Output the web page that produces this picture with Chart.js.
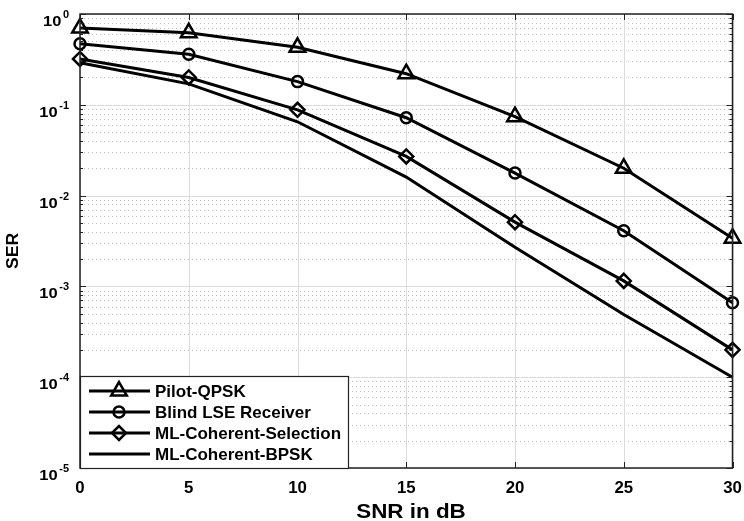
<!DOCTYPE html>
<html>
<head>
<meta charset="utf-8">
<script src="https://cdn.jsdelivr.net/npm/chart.js@4"></script>
<style>
  html, body { margin: 0; padding: 0; background: #fff; }
  #wrap { width: 744px; height: 521px; position: relative; }
</style>
</head>
<body>
<div id="wrap"><canvas id="chart"></canvas></div>
<script>
// values
const snrValues = [0, 5, 10, 15, 20, 25, 30];
const pilotQpsk = [0.70, 0.62, 0.43, 0.22, 0.074, 0.020, 0.0034];
const blindLse = [0.47, 0.36, 0.18, 0.072, 0.0177, 0.0041, 0.00066];
const mlSelection = [0.32, 0.20, 0.088, 0.027, 0.0051, 0.00115, 0.0002];
const mlBpsk = [0.29, 0.17, 0.065, 0.016, 0.0027, 0.00049, 0.0001];
const seriesNames = ['Pilot-QPSK', 'Blind LSE Receiver', 'ML-Coherent-Selection', 'ML-Coherent-BPSK'];
const xTicks = [0, 5, 10, 15, 20, 25, 30];
const yExponents = [0, -1, -2, -3, -4, -5];

const FONT = 'Arial, "Liberation Sans", Helvetica, sans-serif';

const toPoints = (ys) => snrValues.map((x, i) => ({ x: x, y: ys[i] }));

function makeSet(label, ys, style, radius) {
    return {
        label: label,
        data: toPoints(ys),
        borderColor: '#000',
        borderWidth: 3,
        pointStyle: style,
        pointRadius: radius,
        pointBorderWidth: 2.5,
        pointBorderColor: '#000',
        pointBackgroundColor: 'rgba(0,0,0,0)',
        tension: 0,
        fill: false,
        clip: false
    };
}

const datasets = [
    makeSet(seriesNames[0], pilotQpsk, 'triangle', 9),
    makeSet(seriesNames[1], blindLse, 'circle', 5.5),
    makeSet(seriesNames[2], mlSelection, 'rectRot', 7),
    makeSet(seriesNames[3], mlBpsk, false, 0)
];

// text slightly wider than the font, like the exported MATLAB figure
function drawText(ctx, text, x, y, align, sx) {
    const w = ctx.measureText(text).width * sx;
    let left = x;
    if (align === 'center') left = x - w / 2;
    else if (align === 'right') left = x - w;
    ctx.save();
    ctx.translate(left, y);
    ctx.scale(sx, 1);
    ctx.textAlign = 'left';
    ctx.fillText(text, 0, 0);
    ctx.restore();
    return w;
}

// grid, axes box, tick labels and legend drawn like MATLAB
const matlabPlugin = {
    id: 'matlab',
    beforeDatasetsDraw(chart) {
        const { ctx, chartArea: a, scales: { x, y } } = chart;
        ctx.save();
        // minor y grid (dotted)
        ctx.strokeStyle = '#bdbdbd';
        ctx.lineWidth = 1;
        ctx.setLineDash([1, 3]);
        for (let e = -5; e < 0; e++) {
            for (let m = 2; m <= 9; m++) {
                const py = Math.round(y.getPixelForValue(m * Math.pow(10, e))) + 0.5;
                ctx.beginPath();
                ctx.moveTo(a.left, py);
                ctx.lineTo(a.right, py);
                ctx.stroke();
            }
        }
        // major grid
        ctx.setLineDash([]);
        ctx.strokeStyle = '#dcdcdc';
        yExponents.forEach(e => {
            const py = Math.round(y.getPixelForValue(Math.pow(10, e))) + 0.5;
            ctx.beginPath();
            ctx.moveTo(a.left, py);
            ctx.lineTo(a.right, py);
            ctx.stroke();
        });
        xTicks.forEach(v => {
            const px = Math.round(x.getPixelForValue(v)) + 0.5;
            ctx.beginPath();
            ctx.moveTo(px, a.top);
            ctx.lineTo(px, a.bottom);
            ctx.stroke();
        });
        ctx.restore();
    },
    afterDatasetsDraw(chart) {
        const { ctx, chartArea: a, scales: { x, y } } = chart;
        ctx.save();
        ctx.strokeStyle = '#222';
        ctx.lineWidth = 1.5;
        ctx.strokeRect(a.left, a.top, a.right - a.left, a.bottom - a.top);

        // tick marks (inside)
        ctx.lineWidth = 1;
        xTicks.forEach(v => {
            const px = Math.round(x.getPixelForValue(v)) + 0.5;
            ctx.beginPath();
            ctx.moveTo(px, a.bottom); ctx.lineTo(px, a.bottom - 6);
            ctx.moveTo(px, a.top); ctx.lineTo(px, a.top + 6);
            ctx.stroke();
        });
        for (let e = -5; e <= 0; e++) {
            const py = Math.round(y.getPixelForValue(Math.pow(10, e))) + 0.5;
            ctx.beginPath();
            ctx.moveTo(a.left, py); ctx.lineTo(a.left + 6, py);
            ctx.moveTo(a.right, py); ctx.lineTo(a.right - 6, py);
            ctx.stroke();
            if (e < 0) {
                for (let m = 2; m <= 9; m++) {
                    const my = Math.round(y.getPixelForValue(m * Math.pow(10, e))) + 0.5;
                    ctx.beginPath();
                    ctx.moveTo(a.left, my); ctx.lineTo(a.left + 3, my);
                    ctx.moveTo(a.right, my); ctx.lineTo(a.right - 3, my);
                    ctx.stroke();
                }
            }
        }

        // x tick labels
        ctx.fillStyle = '#000';
        ctx.font = 'bold 16px ' + FONT;
        ctx.textBaseline = 'alphabetic';
        xTicks.forEach(v => drawText(ctx, String(v), x.getPixelForValue(v), a.bottom + 25, 'center', 1.05));

        // y tick labels 10^n
        yExponents.forEach(e => {
            const py = y.getPixelForValue(Math.pow(10, e));
            ctx.font = 'bold 11px ' + FONT;
            const ew = drawText(ctx, String(e), 69, py + 4, 'right', 1.0);
            ctx.font = 'bold 15px ' + FONT;
            drawText(ctx, '10', 69 - ew - 1.5, py + 12, 'right', 1.1);
        });

        // axis titles
        ctx.font = 'bold 20px ' + FONT;
        drawText(ctx, 'SNR in dB', 411, 518, 'center', 1.12);
        ctx.save();
        ctx.translate(18, 251);
        ctx.rotate(-Math.PI / 2);
        ctx.font = 'bold 16px ' + FONT;
        drawText(ctx, 'SER', 0, 0, 'center', 1.1);
        ctx.restore();

        // legend
        const lx = a.left, ly = 376, lw = 268, lh = a.bottom - 376;
        ctx.fillStyle = '#fff';
        ctx.fillRect(lx, ly, lw, lh);
        ctx.strokeStyle = '#222';
        ctx.lineWidth = 1.2;
        ctx.strokeRect(lx + 0.5, ly + 0.5, lw, lh);
        const rowY = [391, 412, 433, 454];
        chart.data.datasets.forEach((ds, i) => {
            const ry = rowY[i];
            ctx.strokeStyle = '#000';
            ctx.lineWidth = 3;
            ctx.beginPath();
            ctx.moveTo(89, ry);
            ctx.lineTo(150, ry);
            ctx.stroke();
            if (ds.pointStyle) {
                ctx.fillStyle = 'rgba(0,0,0,0)';
                ctx.lineWidth = ds.pointBorderWidth;
                Chart.helpers.drawPoint(ctx, {
                    pointStyle: ds.pointStyle,
                    radius: ds.pointRadius,
                    borderWidth: ds.pointBorderWidth,
                    rotation: 0
                }, 119, ry);
            }
            ctx.fillStyle = '#000';
            ctx.font = 'bold 17px ' + FONT;
            ctx.textBaseline = 'middle';
            drawText(ctx, ds.label, 155, ry + 1, 'left', 1.0);
        });
        ctx.restore();
    }
};

new Chart(document.getElementById('chart'), {
    type: 'line',
    data: { datasets: datasets },
    options: {
        responsive: true,
        maintainAspectRatio: false,
        animation: false,
        layout: { padding: { left: 0, right: 11, top: 14, bottom: 0 } },
        plugins: { legend: { display: false }, tooltip: { enabled: false } },
        scales: {
            x: {
                type: 'linear',
                min: 0,
                max: 30,
                grid: { display: false },
                border: { display: false },
                ticks: { display: false },
                afterFit: (s) => { s.height = 53; }
            },
            y: {
                type: 'logarithmic',
                min: 1e-5,
                max: 1,
                grid: { display: false },
                border: { display: false },
                ticks: { display: false },
                afterFit: (s) => { s.width = 80; }
            }
        }
    },
    plugins: [matlabPlugin]
});
</script>
</body>
</html>
